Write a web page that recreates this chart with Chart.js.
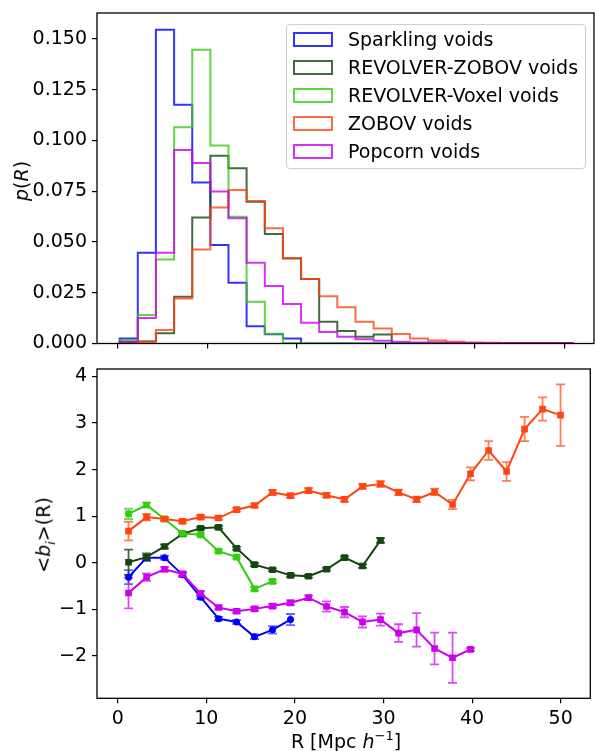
<!DOCTYPE html>
<html>
<head>
<meta charset="utf-8">
<script src="https://cdn.jsdelivr.net/npm/chart.js@4.4.0/dist/chart.umd.min.js"></script>
<style>
  body { margin: 0; background: #fff; font-family: 'DejaVu Sans', sans-serif; }
  #wrap { position: relative; width: 595px; height: 751px; overflow: hidden; }
  canvas { position: absolute; left: 0; }
  #topChart { top: 0; }
  #botChart { top: 360px; }
  .lab { position: absolute; font-size: 19px; color: #000; white-space: nowrap; transform: translate(-50%, -50%); }
  .rot { transform: translate(-50%, -50%) rotate(-90deg); }
  #legend { position: absolute; left: 286px; top: 24px; width: 300px; height: 145px; box-sizing: border-box;
            border: 1px solid #cfcfcf; border-radius: 4px; background: rgba(255,255,255,0.8); }
  .patch { position: absolute; left: 293px; width: 40px; height: 15px; box-sizing: border-box; border: 2px solid; }
  .ltxt { position: absolute; left: 348px; font-size: 19px; line-height: 22px; color: #000; white-space: nowrap; }
</style>
</head>
<body>
<div id="wrap">
  <canvas id="topChart" width="595" height="360"></canvas>
  <canvas id="botChart" width="595" height="391"></canvas>
  <div id="legend"></div>
  <div class="lab rot" style="left:21px; top:181px;"><i>p</i>(<i>R</i>)</div>
  <div class="lab rot" style="left:45px; top:535px;">&lt;<i>b</i><sub style="font-size:13px"><i>i</i></sub>&gt;(R)</div>
  <div class="lab" style="left:346px; top:740px;">R [Mpc <i>h</i><sup style="font-size:13px">&minus;1</sup>]</div>
</div>
<script>
// histogram bin edges (Mpc/h) and bin centres
const binEdges = [0.2, 2.23, 4.26, 6.30, 8.33, 10.36, 12.39, 14.42, 16.46, 18.49, 20.52, 22.55, 24.58,
                  26.62, 28.65, 30.68, 32.71, 34.74, 36.78, 38.81, 40.84, 42.87, 44.90, 46.94, 48.97, 51.0];
const radiusBins = [1.22, 3.25, 5.28, 7.31, 9.35, 11.38, 13.41, 15.44, 17.47, 19.5, 21.54, 23.57, 25.6,
                    27.63, 29.66, 31.7, 33.73, 35.76, 37.79, 39.82, 41.86, 43.89, 45.92, 47.95, 49.98];

const labels = ['Sparkling voids', 'REVOLVER-ZOBOV voids', 'REVOLVER-Voxel voids', 'ZOBOV voids', 'Popcorn voids'];
const lineColors = ['#0000ff', '#144610', '#33cc11', '#ff4512', '#cc00ee'];
const histColors = ['rgba(0,0,255,0.8)', 'rgba(20,70,16,0.8)', 'rgba(51,204,17,0.8)', 'rgba(255,69,18,0.8)', 'rgba(204,0,238,0.8)'];

// p(R)
const pSparkling = [0.0025, 0.0447, 0.1545, 0.1175, 0.0792, 0.0485, 0.0299, 0.0085, 0.0045, 0.0025, 0, 0, 0,
                    0, 0, 0, 0, 0, 0, 0, 0, 0, 0, 0, 0];
const pRevZobov = [0.0008, 0.001, 0.005, 0.023, 0.062, 0.0924, 0.0863, 0.0698, 0.0539, 0.0419, 0.0317, 0.0107, 0.0062,
                   0.0033, 0.0044, 0, 0, 0, 0, 0, 0, 0, 0, 0, 0];
const pRevVoxel = [0.0016, 0.014, 0.0414, 0.1065, 0.1446, 0.0975, 0.0624, 0.0205, 0.0048, 0.0003, 0, 0, 0,
                   0, 0, 0, 0, 0, 0, 0, 0, 0, 0, 0, 0];
const pZobov = [0.0005, 0.001, 0.0066, 0.0222, 0.0463, 0.0669, 0.0756, 0.0702, 0.0567, 0.0421, 0.0317, 0.0233, 0.0178,
                0.0107, 0.0074, 0.0047, 0.0025, 0.0015, 0.0008, 0.0005, 0.0004, 0.0003, 0.0003, 0.0002, 0.0002];
const pPopcorn = [0.0007, 0.0126, 0.0447, 0.0953, 0.0888, 0.0748, 0.0616, 0.0397, 0.0283, 0.0194, 0.0102, 0.0057, 0.0033,
                  0.0021, 0.0013, 0.0008, 0.0005, 0.0005, 0.0004, 0.0003, 0.0003, 0.0002, 0.0002, 0.0002, 0.0002];

// <b_i>(R) and errors
const bSparkling = [-0.31, 0.11, 0.11, -0.26, -0.74, -1.20, -1.27, -1.59, -1.44, -1.22];
const eSparkling = [0.15, 0.05, 0.04, 0.04, 0.04, 0.04, 0.04, 0.05, 0.08, 0.12];
const bRevZobov = [0.01, 0.12, 0.35, 0.62, 0.74, 0.76, 0.31, -0.04, -0.15, -0.27, -0.29, -0.14, 0.11, -0.07, 0.48];
const eRevZobov = [0.27, 0.08, 0.04, 0.04, 0.03, 0.03, 0.03, 0.03, 0.03, 0.03, 0.03, 0.03, 0.03, 0.04, 0.05];
const bRevVoxel = [1.05, 1.24, 0.94, 0.63, 0.60, 0.25, 0.12, -0.56, -0.40];
const eRevVoxel = [0.11, 0.05, 0.03, 0.03, 0.03, 0.03, 0.03, 0.04, 0.04];
const bZobov = [0.68, 0.98, 0.94, 0.89, 0.98, 0.96, 1.14, 1.23, 1.51, 1.44, 1.55, 1.45, 1.36, 1.64, 1.69, 1.51, 1.36,
                1.52, 1.25, 1.91, 2.41, 1.96, 2.87, 3.30, 3.17];
const eZobov = [0.2, 0.07, 0.04, 0.04, 0.04, 0.04, 0.04, 0.04, 0.05, 0.04, 0.05, 0.05, 0.05, 0.05, 0.06, 0.06, 0.06,
                0.07, 0.1, 0.14, 0.2, 0.2, 0.26, 0.25, 0.66];
const bPopcorn = [-0.65, -0.31, -0.14, -0.24, -0.66, -0.96, -1.04, -0.99, -0.93, -0.86, -0.75, -0.94, -1.06, -1.27,
                  -1.22, -1.51, -1.44, -1.84, -2.04, -1.86];
const ePopcorn = [0.33, 0.08, 0.05, 0.05, 0.05, 0.04, 0.04, 0.04, 0.04, 0.05, 0.05, 0.11, 0.11, 0.12, 0.13, 0.19, 0.36,
                  0.34, 0.54, 0.03];

const xTicks = [0, 10, 20, 30, 40, 50];
const pTicks = [0, 0.025, 0.05, 0.075, 0.1, 0.125, 0.15];
const bTicks = [-2, -1, 0, 1, 2, 3, 4];

const tickFont = { family: 'DejaVu Sans', size: 19 };

// outline the step histogram through its corners
function stepPoints(edges, vals) {
  const pts = [{ x: edges[0], y: 0 }];
  vals.forEach((v, i) => {
    pts.push({ x: edges[i], y: v });
    pts.push({ x: edges[i + 1], y: v });
  });
  pts.push({ x: edges[vals.length], y: 0 });
  return pts;
}

const frame = {
  id: 'frame',
  afterDraw(chart) {
    const a = chart.chartArea, ctx = chart.ctx;
    ctx.save();
    ctx.strokeStyle = '#000';
    ctx.lineWidth = 1.3;
    ctx.strokeRect(a.left, a.top, a.right - a.left, a.bottom - a.top);
    ctx.restore();
  }
};

const errorBars = {
  id: 'errorBars',
  beforeDatasetsDraw(chart) {
    const ctx = chart.ctx, ys = chart.scales.y;
    chart.data.datasets.forEach((ds, i) => {
      const meta = chart.getDatasetMeta(i);
      ctx.save();
      ctx.strokeStyle = ds.errColor;
      ctx.lineWidth = 1.8;
      meta.data.forEach((pt, j) => {
        const v = ds.data[j].y, e = ds.errors[j];
        const t = ys.getPixelForValue(v + e), b = ys.getPixelForValue(v - e);
        ctx.beginPath();
        ctx.moveTo(pt.x, t); ctx.lineTo(pt.x, b);
        ctx.moveTo(pt.x - 4.5, t); ctx.lineTo(pt.x + 4.5, t);
        ctx.moveTo(pt.x - 4.5, b); ctx.lineTo(pt.x + 4.5, b);
        ctx.stroke();
      });
      ctx.restore();
    });
  }
};

const xMin = -2.34, xMax = 53.34;

// no extra room for half tick labels: the frame sits where layout padding puts it
function noPad(s) {
  s.paddingTop = 0; s.paddingBottom = 0; s.paddingLeft = 0; s.paddingRight = 0;
}

function xScale(showLabels, height) {
  return {
    type: 'linear', min: xMin, max: xMax,
    afterBuildTicks: s => { s.ticks = xTicks.map(v => ({ value: v })); },
    afterFit: s => { s.height = height; noPad(s); },
    ticks: { display: showLabels, font: tickFont, color: '#000', padding: 4, maxRotation: 0 },
    grid: { drawOnChartArea: false, drawTicks: true, tickLength: 5, color: '#000', lineWidth: 1.2 },
    border: { display: false }
  };
}

function yScale(min, max, ticks, fmt) {
  return {
    min: min, max: max,
    afterBuildTicks: s => { s.ticks = ticks.map(v => ({ value: v })); },
    afterFit: s => { s.width = 97; noPad(s); },
    ticks: { font: tickFont, color: '#000', padding: 5, callback: fmt },
    grid: { drawOnChartArea: false, drawTicks: true, tickLength: 5, color: '#000', lineWidth: 1.2 },
    border: { display: false }
  };
}

const histSeries = [pSparkling, pRevZobov, pRevVoxel, pZobov, pPopcorn];
new Chart(document.getElementById('topChart'), {
  type: 'line',
  data: {
    datasets: histSeries.map((vals, i) => ({
      label: labels[i],
      data: stepPoints(binEdges, vals),
      borderColor: histColors[i],
      backgroundColor: 'rgba(0,0,0,0)',
      borderWidth: 2,
      pointRadius: 0,
      tension: 0,
      fill: false,
      order: 4 - i
    }))
  },
  options: {
    responsive: false,
    animation: false,
    layout: { padding: { top: 13, right: 1, left: 0, bottom: 0 } },
    plugins: { legend: { display: false }, tooltip: { enabled: false } },
    scales: {
      x: xScale(false, 16.5),
      y: yScale(0, 0.1627, pTicks, v => v.toFixed(3))
    }
  },
  plugins: [frame]
});

const biasSeries = [bSparkling, bRevZobov, bRevVoxel, bZobov, bPopcorn];
const biasErrors = [eSparkling, eRevZobov, eRevVoxel, eZobov, ePopcorn];
const errColors = ['rgba(0,0,255,0.6)', 'rgba(20,70,16,0.8)', 'rgba(51,204,17,0.7)', 'rgba(255,69,18,0.7)', 'rgba(204,0,238,0.7)'];
new Chart(document.getElementById('botChart'), {
  type: 'line',
  data: {
    datasets: biasSeries.map((vals, i) => ({
      label: labels[i],
      data: vals.map((y, j) => ({ x: radiusBins[j], y: y })),
      errors: biasErrors[i],
      errColor: errColors[i],
      borderColor: lineColors[i],
      backgroundColor: lineColors[i],
      borderWidth: 2,
      pointStyle: i === 0 ? 'circle' : 'rect',
      pointRadius: i === 0 ? 3.5 : 4.7,
      pointBorderWidth: 0,
      tension: 0,
      fill: false,
      order: 4 - i
    }))
  },
  options: {
    responsive: false,
    animation: false,
    layout: { padding: { top: 9, right: 1, left: 0, bottom: 0 } },
    plugins: { legend: { display: false }, tooltip: { enabled: false } },
    scales: {
      x: xScale(true, 52.7),
      y: yScale(-2.91, 4.16, bTicks, v => (v < 0 ? '\u2212' + Math.abs(v) : String(v)))
    }
  },
  plugins: [frame, errorBars]
});

// legend drawn as html boxes + text
const legendRows = [39, 67, 95, 123, 151];
const wrap = document.getElementById('wrap');
labels.forEach((name, i) => {
  const p = document.createElement('div');
  p.className = 'patch';
  p.style.top = (legendRows[i] - 7.5) + 'px';
  p.style.borderColor = histColors[i];
  wrap.appendChild(p);
  const t = document.createElement('div');
  t.className = 'ltxt';
  t.style.top = (legendRows[i] - 11) + 'px';
  t.textContent = name;
  wrap.appendChild(t);
});
</script>
</body>
</html>
